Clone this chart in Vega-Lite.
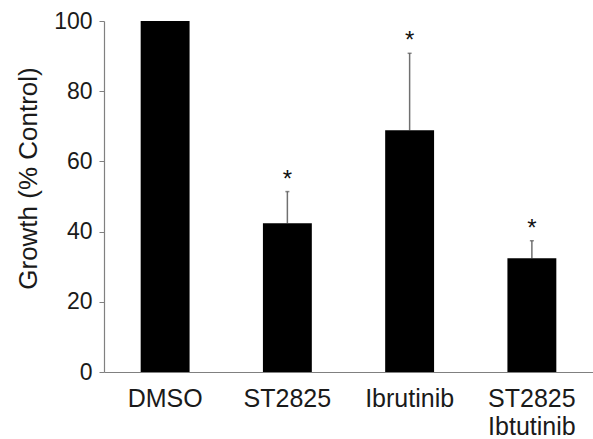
{
  "$schema": "https://vega.github.io/schema/vega-lite/v6.json",
  "autosize": "none",
  "padding": {"left": 104, "top": 21, "right": 0, "bottom": 67},
  "width": 489,
  "height": 351,
  "background": "white",
  "config": {
    "view": {"stroke": null},
    "font": "Liberation Sans",
    "axis": {"grid": false, "domainColor": "#808080", "tickColor": "#808080", "labelColor": "#1a1a1a", "titleColor": "#1a1a1a", "labelFont": "Liberation Sans", "titleFont": "Liberation Sans", "titleFontWeight": "normal"}
  },
  "data": {
    "values": [
      {"group": "DMSO", "growth": 100, "hi": null, "sig": ""},
      {"group": "ST2825", "growth": 42.4, "hi": 51.4, "sig": "*"},
      {"group": "Ibrutinib", "growth": 68.9, "hi": 90.8, "sig": "*"},
      {"group": "ST2825|Ibtutinib", "growth": 32.4, "hi": 37.4, "sig": "*"}
    ]
  },
  "encoding": {
    "x": {
      "field": "group", "type": "nominal", "sort": null,
      "scale": {"paddingInner": 0.6, "paddingOuter": 0.3},
      "axis": {"title": null, "labelAngle": 0, "ticks": false, "tickSize": 0, "labelPadding": 14, "labelFontSize": 25, "labelLineHeight": 28, "labelBaseline": "top", "labelExpr": "split(datum.value, '|')", "domainWidth": 1.2}
    }
  },
  "layer": [
    {
      "mark": {"type": "rule", "color": "#707070", "strokeWidth": 1.5},
      "encoding": {
        "y": {"field": "growth", "type": "quantitative"},
        "y2": {"field": "hi"}
      }
    },
    {
      "mark": {"type": "tick", "color": "#555555", "thickness": 1.5, "size": 4, "orient": "horizontal"},
      "encoding": {
        "y": {"field": "hi", "type": "quantitative"}
      }
    },
    {
      "mark": {"type": "bar", "color": "#000000"},
      "encoding": {
        "y": {
          "field": "growth", "type": "quantitative",
          "scale": {"domain": [0, 100], "nice": false},
          "axis": {"title": "Growth (% Control)", "values": [0, 20, 40, 60, 80, 100], "tickSize": 5, "labelPadding": 7, "labelFontSize": 23, "titleFontSize": 26, "titleX": -76, "titleY": 157, "titleBaseline": "middle", "titleAlign": "center", "domainWidth": 1.2}
        }
      }
    },
    {
      "mark": {"type": "text", "fontSize": 24, "baseline": "alphabetic", "dy": -5, "color": "#111111"},
      "encoding": {
        "y": {"field": "hi", "type": "quantitative"},
        "text": {"field": "sig"}
      }
    }
  ]
}
